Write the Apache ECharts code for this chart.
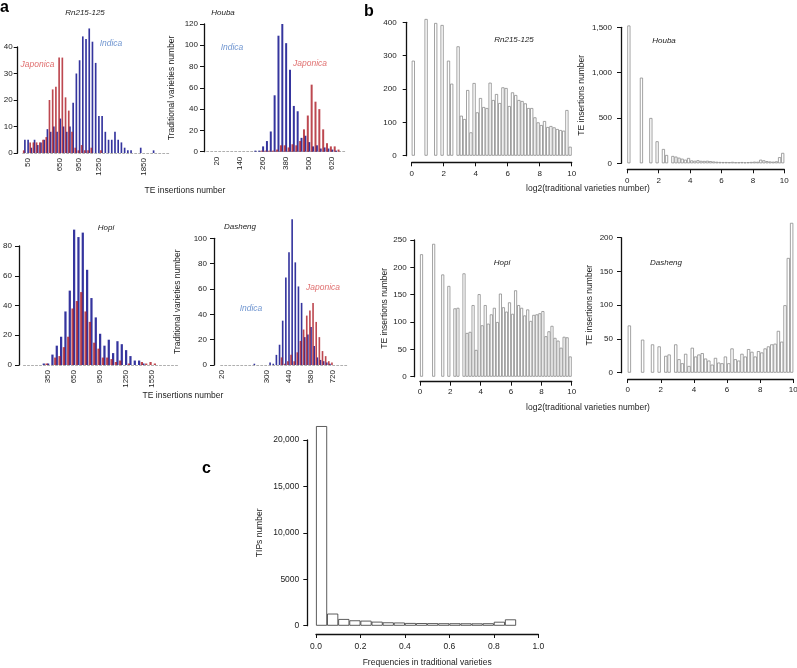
<!DOCTYPE html>
<html><head><meta charset="utf-8">
<script src="https://cdn.jsdelivr.net/npm/echarts@6/dist/echarts.min.js"></script>
<style>html,body{margin:0;padding:0;background:#fff}#chart{width:797px;height:668px}</style>
</head><body><div id="chart"></div>
<script>
// ---------- Panel a : TE insertions per variety (bins indexed 0..N-1) ----------
const rnJaponica = [1,0,4,4,4,4,5,6,20,24,25,36,36,21,16,8,2,1,3,1,1,2,0,0,1,0,0,0,0,0,0,0,0,0,0,0,0,0,0,0,0,0,0,0,0,0];
const rnIndica   = [5,5,2,5,3,4,5,9,8,10,8,13,10,8,10,19,30,35,44,43,47,42,34,14,14,8,5,5,8,5,4,2,1,1,0,0,2,0,0,0,1,0,0,0,0,0];
const rnTickIdx  = [1,11,17,23,37];
const rnTickText = ['50','650','950','1250','1850'];

const houbaIndica   = [0,0,0,0,0,0,0,0,0,0,0,0,1,1,5,10,19,53,109,120,102,77,43,38,13,15,9,5,6,3,4,3,2,1,0,0];
const houbaJaponica = [0,0,0,0,0,0,0,0,0,0,0,0,0,0,1,1,1,1,2,6,6,4,7,6,10,21,34,63,47,40,21,8,5,5,2,0];
const houbaTickIdx  = [2,8,14,20,26,32];
const houbaTickText = ['20','140','260','380','500','620'];

const hopiIndica   = [0,0,0,0,1,1,7,13,19,36,50,91,86,89,64,45,32,21,13,17,8,16,14,10,6,3,3,1,0,0,0,0,0,0,0,0];
const hopiJaponica = [0,0,0,0,0,1,0,5,6,12,19,38,43,49,36,29,15,11,5,5,4,2,3,0,1,0,0,2,1,2,1,0,0,0,0,0];
const hopiTickIdx  = [5,11,17,23,29];
const hopiTickText = ['350','650','950','1250','1550'];

const dashengIndica   = [0,0,0,0,0,0,0,0,0,0,1,0,0,0,0,2,1,8,16,35,69,89,115,81,62,49,22,24,30,15,6,4,3,2,1,0,0,0,0,0];
const dashengJaponica = [0,0,0,0,0,0,0,0,0,0,0,0,0,0,0,0,0,0,0,6,1,3,8,3,10,19,28,39,43,49,34,22,11,7,3,2,0,0,0,0];
const dashengTickIdx  = [0,14,21,28,35];
const dashengTickText = ['20','300','440','580','720'];

// ---------- Panel b : log2(traditional varieties number), bins of 0.2 from 0 to 10 ----------
const bRn215   = [285,0,0,0,410,0,0,398,0,392,0,285,216,0,328,120,110,197,70,218,
                  130,173,146,143,219,167,185,158,205,203,149,190,182,167,164,157,143,143,115,100,
                  92,104,86,89,85,80,77,75,137,27];
const bHouba   = [1520,0,0,0,945,0,0,500,0,243,0,158,92,0,81,74,62,51,40,59,
                  32,28,34,27,26,28,24,20,17,15,14,14,13,16,12,12,14,11,13,15,
                  18,17,40,33,24,20,18,22,68,115];
const bHopi    = [224,0,0,0,243,0,0,187,0,166,0,125,126,0,189,80,82,131,49,151,
                  94,131,97,114,126,100,152,127,119,136,115,158,131,126,112,123,102,113,114,116,
                  120,74,83,93,71,66,53,73,72,37];
const bDasheng = [70,0,0,0,49,0,0,42,0,39,0,25,27,0,42,20,14,28,10,37,
                  24,27,29,21,18,12,22,15,14,24,14,36,20,18,28,24,35,31,24,32,
                  30,36,39,42,43,62,46,100,170,222];
const bBinWidth = 0.2;

// ---------- Panel c : frequencies in traditional varieties, bins of 0.05 ----------
const cTips = [21500,1300,720,575,540,430,360,340,290,280,270,260,260,255,250,260,420,680];
const cBinWidth = 0.05;
const cYTickText = ['0','5000','10,000','15,000','20,000'];

const FONT = '"Liberation Sans", Arial, Helvetica, sans-serif';
const INK = '#222';
const grid = [], xAxis = [], yAxis = [], series = [];

function yAxisOf(k, p) {
  return {
    gridIndex: k, type: 'value', min: 0, max: p.yMax, interval: p.yInt, offset: p.yOff,
    axisLine: {show: true, onZero: false, lineStyle: {color: '#111', width: 1.3}},
    axisTick: {show: true, length: 4, lineStyle: {color: '#111', width: 1}},
    axisLabel: {show: true, fontSize: p.fs || 8, fontFamily: FONT, color: INK, margin: p.yMargin,
                formatter: p.yFmt},
    splitLine: {show: false},
    name: p.yName || '', nameLocation: 'middle', nameGap: p.yNameGap || 0,
    nameTextStyle: {fontSize: p.nfs || 8.5, fontFamily: FONT, color: INK}
  };
}

function addPanelA(p) {
  const k = grid.length;
  grid.push({left: p.left, top: p.top, width: p.width, height: p.bottom - p.top,
             containLabel: false, outerBoundsMode: 'none'});
  xAxis.push({
    gridIndex: k, type: 'category', boundaryGap: true,
    data: p.japonica.map((_, i) => String(i)),
    axisLine: {show: true, onZero: false, lineStyle: {color: '#9a9a9a', width: 0.8, type: [2, 2]}},
    axisTick: {show: false},
    axisLabel: {show: true, rotate: 90, margin: 5, fontSize: 8, fontFamily: FONT, color: INK,
      interval: (i) => p.tickIdx.indexOf(i) >= 0,
      formatter: (v) => { const j = p.tickIdx.indexOf(+v); return j >= 0 ? p.tickText[j] : ''; }},
    splitLine: {show: false}
  });
  yAxis.push(yAxisOf(k, p));
  series.push({type: 'bar', name: 'Japonica', xAxisIndex: k, yAxisIndex: k, data: p.japonica,
    barGap: '-30%', barCategoryGap: '12%', z: 3, clip: false, silent: true,
    itemStyle: {color: 'rgba(172,26,36,0.8)'}});
  series.push({type: 'bar', name: 'Indica', xAxisIndex: k, yAxisIndex: k, data: p.indica,
    barGap: '-30%', barCategoryGap: '12%', z: 2, clip: false, silent: true,
    itemStyle: {color: 'rgba(36,36,150,0.92)'}});
}

function addPanelHist(p) {
  const k = grid.length;
  grid.push({left: p.left, top: p.top, width: p.width, height: p.bottom - p.top,
             containLabel: false, outerBoundsMode: 'none'});
  xAxis.push({
    gridIndex: k, type: 'value', min: p.xMin, max: p.xMax, interval: p.xInt, offset: p.xOff,
    axisLine: {show: true, onZero: false, lineStyle: {color: '#111', width: 1.3}},
    axisTick: {show: true, length: 4, lineStyle: {color: '#111', width: 1}},
    axisLabel: {show: true, fontSize: p.fs || 8, fontFamily: FONT, color: INK, margin: p.xMargin,
                formatter: p.xFmt},
    splitLine: {show: false},
    name: p.xName || '', nameLocation: 'middle', nameGap: p.xNameGap || 0,
    nameTextStyle: {fontSize: p.nfs || 8.5, fontFamily: FONT, color: INK}
  });
  yAxis.push(yAxisOf(k, p));
  const bw = p.binW * p.width / (p.xMax - p.xMin);
  series.push({type: 'bar', xAxisIndex: k, yAxisIndex: k, barWidth: bw, clip: false, silent: true,
    data: p.values.map((v, i) => [p.xMin + (i + 0.5) * p.binW, v]).filter(d => d[1] > 0),
    itemStyle: {color: '#fff', borderColor: p.border, borderWidth: 0.8}});
}

// panel a
addPanelA({left: 22.7, width: 148, top: 47, bottom: 153, yMax: 40, yInt: 10, yOff: 5, yMargin: 5,
  japonica: rnJaponica, indica: rnIndica, tickIdx: rnTickIdx, tickText: rnTickText});
addPanelA({left: 206.7, width: 138.3, top: 24, bottom: 151.7, yMax: 120, yInt: 20, yOff: 2.7, yMargin: 6,
  japonica: houbaJaponica, indica: houbaIndica, tickIdx: houbaTickIdx, tickText: houbaTickText,
  yName: 'Traditional varieties number', yNameGap: 28});
addPanelA({left: 23.5, width: 156, top: 246, bottom: 365, yMax: 80, yInt: 20, yOff: 4.5, yMargin: 7,
  japonica: hopiJaponica, indica: hopiIndica, tickIdx: hopiTickIdx, tickText: hopiTickText});
addPanelA({left: 220.7, width: 126, top: 238.3, bottom: 365, yMax: 100, yInt: 20, yOff: 6.7, yMargin: 7,
  japonica: dashengJaponica, indica: dashengIndica, tickIdx: dashengTickIdx, tickText: dashengTickText,
  yName: 'Traditional varieties number', yNameGap: 32});

// panel b
const bCommon = {xMin: 0, xMax: 10, xInt: 2, binW: bBinWidth, border: '#8c8c8c'};
addPanelHist(Object.assign({}, bCommon, {left: 411.7, width: 160, top: 22.3, bottom: 155.7,
  yMax: 400, yInt: 100, yOff: 5, xOff: 6.6, yMargin: 10, xMargin: 7, values: bRn215}));
addPanelHist(Object.assign({}, bCommon, {left: 627.3, width: 157, top: 27.3, bottom: 163.3,
  yMax: 1500, yInt: 500, yOff: 6.3, xOff: 6, yMargin: 9, xMargin: 7, values: bHouba,
  yName: 'TE insertions number', yNameGap: 35}));
addPanelHist(Object.assign({}, bCommon, {left: 420, width: 151.7, top: 240, bottom: 376.7,
  yMax: 250, yInt: 50, yOff: 5.7, xOff: 5, yMargin: 7.6, xMargin: 6.5, values: bHopi,
  yName: 'TE insertions number', yNameGap: 25}));
addPanelHist(Object.assign({}, bCommon, {left: 627.7, width: 165.6, top: 237.7, bottom: 372.7,
  yMax: 200, yInt: 50, yOff: 6.7, xOff: 6.3, yMargin: 8, xMargin: 7, values: bDasheng,
  yName: 'TE insertions number', yNameGap: 27}));

// panel c
addPanelHist({left: 316, width: 222.3, top: 440, bottom: 625.7, xMin: 0, xMax: 1, xInt: 0.2,
  binW: cBinWidth, border: '#333', yMax: 20000, yInt: 5000, yOff: 8.7, xOff: 8.3,
  yMargin: 8, xMargin: 8.5, fs: 8.5, values: cTips,
  xFmt: (v) => v.toFixed(1), yFmt: (v) => cYTickText[Math.round(v / 5000)],
  yName: 'TIPs number', yNameGap: 43, xName: 'Frequencies in traditional varieties', xNameGap: 24});

// free texts
const labels = [
  {t: 'a', x: 0, y: 8, f: 'bold 16px', c: '#000', a: 'left'},
  {t: 'b', x: 364, y: 12, f: 'bold 16px', c: '#000', a: 'left'},
  {t: 'c', x: 202, y: 469, f: 'bold 16px', c: '#000', a: 'left'},
  {t: 'Rn215-125', x: 85, y: 13, f: 'italic 8px', c: INK},
  {t: 'Houba', x: 223, y: 13, f: 'italic 8px', c: INK},
  {t: 'Hopi', x: 106, y: 228, f: 'italic 8px', c: INK},
  {t: 'Dasheng', x: 240, y: 227, f: 'italic 8px', c: INK},
  {t: 'Rn215-125', x: 514, y: 40, f: 'italic 8px', c: INK},
  {t: 'Houba', x: 664, y: 41, f: 'italic 8px', c: INK},
  {t: 'Hopi', x: 502, y: 263, f: 'italic 8px', c: INK},
  {t: 'Dasheng', x: 666, y: 263, f: 'italic 8px', c: INK},
  {t: 'Japonica', x: 37.5, y: 65, f: 'italic 8.5px', c: '#e07070'},
  {t: 'Indica', x: 111, y: 44, f: 'italic 8.5px', c: '#6f95d0'},
  {t: 'Indica', x: 232, y: 48, f: 'italic 8.5px', c: '#6f95d0'},
  {t: 'Japonica', x: 310, y: 64, f: 'italic 8.5px', c: '#e07070'},
  {t: 'Indica', x: 251, y: 309, f: 'italic 8.5px', c: '#6f95d0'},
  {t: 'Japonica', x: 323, y: 288, f: 'italic 8.5px', c: '#e07070'},
  {t: 'TE insertions number', x: 185, y: 191, f: '8.5px', c: INK},
  {t: 'TE insertions number', x: 183, y: 396, f: '8.5px', c: INK},
  {t: 'log2(traditional varieties number)', x: 588, y: 189, f: '8.5px', c: INK},
  {t: 'log2(traditional varieties number)', x: 588, y: 408, f: '8.5px', c: INK}
];
const graphic = labels.map(l => ({
  type: 'text', x: l.x, y: l.y, silent: true,
  style: {text: l.t, font: l.f + ' ' + FONT, fill: l.c, align: l.a || 'center', verticalAlign: 'middle',
          textAlign: l.a || 'center', textVerticalAlign: 'middle'}
}));

const chart = echarts.init(document.getElementById('chart'), null, {renderer: 'canvas'});
chart.setOption({
  animation: false, backgroundColor: '#fff',
  textStyle: {fontFamily: FONT},
  grid, xAxis, yAxis, series, graphic
});
</script></body></html>
